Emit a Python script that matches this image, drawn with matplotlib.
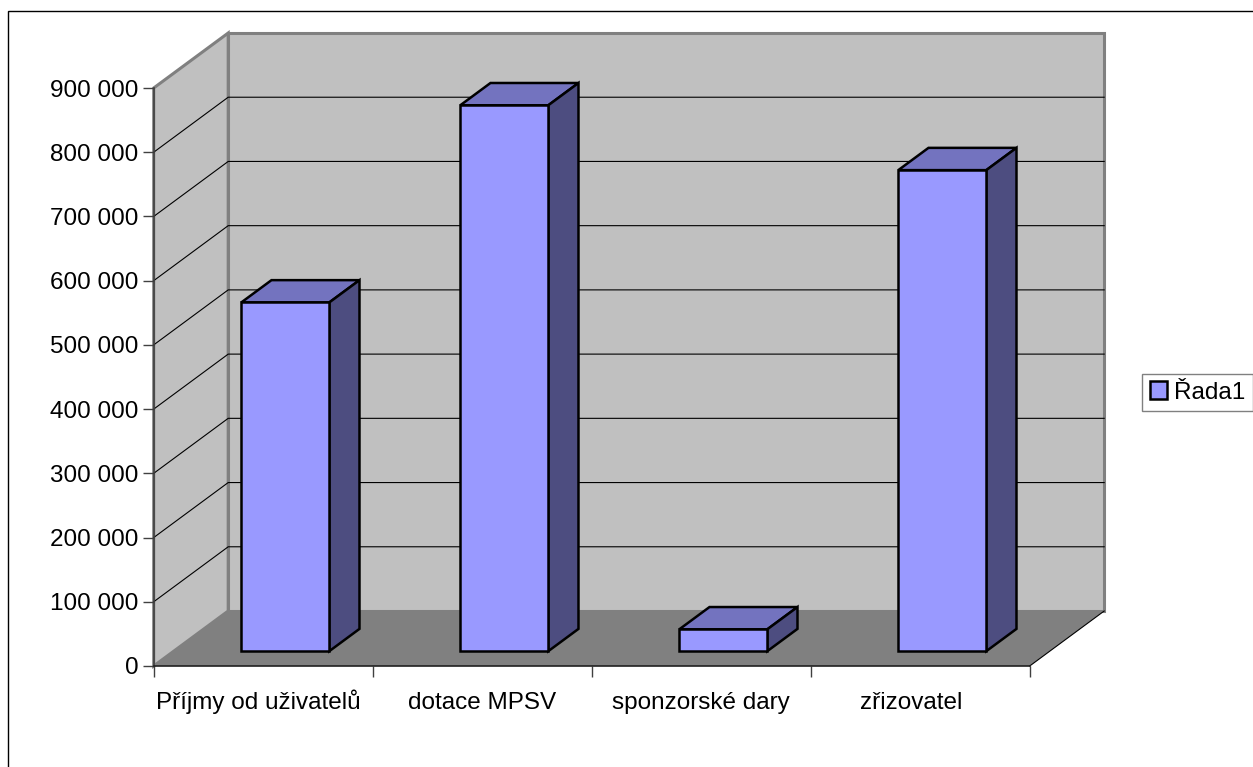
import matplotlib
matplotlib.use('Agg')
import matplotlib.pyplot as plt
from matplotlib.patches import Polygon, Patch, Rectangle
from matplotlib.ticker import FuncFormatter

categories = ['Příjmy od uživatelů', 'dotace MPSV', 'sponzorské dary', 'zřizovatel']
values = [543000, 850000, 34000, 749000]
series_name = 'Řada1'

W, H = 1253, 767
YMAX = 900000
# depth of the 3d box, in data units
DX = 74.5 / 876 * 4
DY = 55 / 578 * YMAX
BAR_W = 88 / 219
FRONT, BACK = 0.27, 0.675
BAR_SHIFT = 2 / 219
LABEL_POS = [0.479, 1.498, 2.498, 3.457]

plt.rcParams['font.family'] = ['Liberation Sans', 'DejaVu Sans']
plt.rcParams['font.size'] = 17.5

fig = plt.figure(figsize=(W / 100, H / 100), dpi=100)
fig.add_artist(Rectangle((8 / W, -0.01), 1.1, 1 - 11 / H + 0.01, transform=fig.transFigure,
                         fill=False, ec='black', lw=1))
ax = fig.add_axes([153.7 / W, 1 - 666 / H, 876 / W, 578 / H])
ax.set_xlim(0, 4)
ax.set_ylim(0, YMAX)
ax.patch.set_visible(False)


def poly(pts, fc, ec='none', lw=0, z=1):
    ax.add_patch(Polygon(pts, closed=True, fc=fc, ec=ec, lw=lw, zorder=z, clip_on=False, joinstyle='miter'))


# walls and floor
poly([(DX, DY), (4 + DX, DY), (4 + DX, YMAX + DY), (DX, YMAX + DY)], '#c0c0c0', '#808080', 2.2)
poly([(0, 0), (DX, DY), (DX, YMAX + DY), (0, YMAX)], '#c0c0c0', '#808080', 2.2)
poly([(0, 0), (4, 0), (4 + DX, DY), (DX, DY)], '#808080', z=1.5)
ax.plot([4, 4 + DX], [0, DY], color='black', lw=0.8, zorder=1.6, clip_on=False)

# gridlines
for v in range(100000, YMAX, 100000):
    ax.plot([0, DX, 4 + DX], [v, v + DY, v + DY], color='black', lw=0.8, zorder=2, clip_on=False)

# bars
fx, fy = FRONT * DX, FRONT * DY
bx, by = BACK * DX, BACK * DY
for i, v in enumerate(values):
    l, r = i + 0.5 - BAR_W / 2 + BAR_SHIFT, i + 0.5 + BAR_W / 2 + BAR_SHIFT
    poly([(l + fx, fy + v), (r + fx, fy + v), (r + bx, by + v), (l + bx, by + v)], '#7373bf', 'black', 1.8, 3)
    poly([(r + fx, fy), (r + bx, by), (r + bx, by + v), (r + fx, fy + v)], '#4d4d80', 'black', 1.8, 3)
    poly([(l + fx, fy), (r + fx, fy), (r + fx, fy + v), (l + fx, fy + v)], '#9999ff', 'black', 1.8, 3.1)

# axes
for s in ('top', 'right'):
    ax.spines[s].set_visible(False)
ax.spines['left'].set_color('#404040')
ax.spines['left'].set_linewidth(1.2)
ax.spines['bottom'].set_color('#202020')
ax.spines['bottom'].set_linewidth(1.2)
ax.spines['left'].set_zorder(2.5)
ax.spines['bottom'].set_zorder(2.5)
ax.set_yticks(range(0, YMAX + 1, 100000))
ax.yaxis.set_major_formatter(FuncFormatter(lambda v, p: f'{int(v):,}'.replace(',', ' ')))
ax.tick_params(axis='y', length=8, width=1, color='#404040', pad=3)
ax.set_xticks(range(5))
ax.set_xticklabels([])
ax.tick_params(axis='x', which='major', length=8, width=1, color='#404040')
ax.set_xticks(LABEL_POS, categories, minor=True)
# same baseline for all labels, the ring on the u should not push one down
ax.tick_params(axis='x', which='minor', length=0, pad=31)
for t in ax.get_xticklabels(minor=True):
    t.set_va('baseline')

handle = Patch(fc='#9999ff', ec='black', lw=1.8)
leg = fig.legend([handle], [series_name], loc='center left', bbox_to_anchor=(1142 / W, 1 - 392.5 / H),
                 fancybox=False, edgecolor='#808080', framealpha=1, handlelength=0.72, handleheight=0.72,
                 handletextpad=0.28, borderpad=0.32, borderaxespad=0, fontsize=17.5)
leg.get_frame().set_linewidth(1)

fig.savefig('out.png', dpi=100)
